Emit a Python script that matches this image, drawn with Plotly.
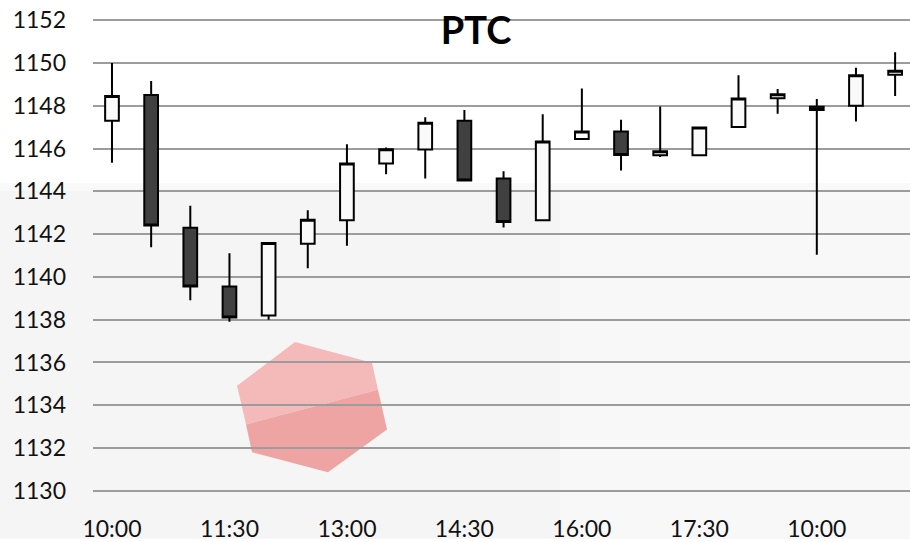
import plotly.graph_objects as go

# ---- data ----
times = ["10:00", "10:30", "11:00", "11:30", "12:00", "12:30", "13:00", "13:30",
         "14:00", "14:30", "15:00", "15:30", "16:00", "16:30", "17:00", "17:30",
         "18:00", "18:30", "10:00", "10:30", "11:00"]
open_ = [1147.3, 1148.5, 1142.3, 1139.55, 1138.2, 1141.55, 1142.65, 1145.3, 1145.95, 1147.3,
         1144.6, 1142.65, 1146.45, 1146.8, 1145.68, 1145.68, 1147.0, 1148.35, 1147.95, 1148.0, 1149.45]
close = [1148.45, 1142.4, 1139.55, 1138.1, 1141.58, 1142.67, 1145.3, 1145.97, 1147.2, 1144.5,
         1142.57, 1146.33, 1146.8, 1145.7, 1145.87, 1146.98, 1148.34, 1148.54, 1147.8, 1149.42, 1149.63]
high = [1150.0, 1149.16, 1143.32, 1141.1, 1141.6, 1143.11, 1146.2, 1146.05, 1147.46, 1147.8,
        1144.94, 1147.6, 1148.8, 1147.34, 1147.96, 1146.98, 1149.42, 1148.78, 1148.31, 1149.78, 1150.5]
low = [1145.33, 1141.38, 1138.91, 1137.9, 1138.0, 1140.4, 1141.45, 1144.8, 1144.6, 1144.5,
       1142.31, 1142.65, 1146.44, 1144.97, 1145.6, 1145.68, 1146.98, 1147.63, 1141.04, 1147.26, 1148.45]
y_ticks = list(range(1130, 1153, 2))
title_text = "PTC"

idx = list(range(len(times)))
tick_idx = idx[::3]
tick_text = [times[i] for i in tick_idx]

W, H = 910, 542
L, R, T, B = 93, 0, 18, 46
PW, PH = W - L - R, H - T - B


def px(x):
    return (x - L) / PW


def py(y):
    return (H - B - y) / PH


def path(points):
    return "M " + " L ".join(f"{px(a):.4f},{py(b):.4f}" for a, b in points) + " Z"


fig = go.Figure()
fig.add_trace(go.Candlestick(
    x=idx, open=open_, high=high, low=low, close=close,
    increasing=dict(line=dict(color="#000000", width=2), fillcolor="#fafafa"),
    decreasing=dict(line=dict(color="#000000", width=2), fillcolor="#404040"),
    whiskerwidth=0, hoverinfo="none", showlegend=False,
))

# background decoration (watermark)
shapes = [
    dict(type="rect", xref="paper", yref="paper", x0=px(0), x1=px(W), y0=py(H), y1=py(192),
         fillcolor="#f5f5f5", line=dict(width=0), layer="below"),
    dict(type="rect", xref="paper", yref="paper", x0=px(0), x1=px(W), y0=py(192), y1=py(184),
         fillcolor="#f9f9f9", line=dict(width=0), layer="below"),
    dict(type="rect", xref="paper", yref="paper", x0=px(560), x1=px(W), y0=py(H), y1=py(192),
         fillcolor="#f8f8f8", line=dict(width=0), layer="below"),
    dict(type="path", xref="paper", yref="paper",
         path=path([(237, 388), (295, 344), (372, 365), (378, 392), (246, 427)]),
         fillcolor="#f4b9b9", line=dict(width=0), layer="below"),
    dict(type="path", xref="paper", yref="paper",
         path=path([(246, 427), (378, 392), (387, 432), (328, 475), (252, 455)]),
         fillcolor="#efa4a4", line=dict(width=0), layer="below"),
]

fig.update_layout(
    width=W, height=H,
    margin=dict(l=L, r=R, t=T, b=B),
    paper_bgcolor="#ffffff", plot_bgcolor="rgba(0,0,0,0)",
    font=dict(family="Lato, 'Open Sans', sans-serif", size=23, color="#111111"),
    title=dict(text=f"<b>{title_text}</b>", x=476 / W, y=1 - 31 / H, xref="container", yref="container",
               xanchor="center", yanchor="middle", font=dict(size=38, color="#000000")),
    boxgap=0.5,
    shapes=shapes,
    xaxis=dict(range=[-0.485, 20.38], tickvals=tick_idx, ticktext=tick_text, showgrid=False,
               zeroline=False, showline=False, ticks="", rangeslider=dict(visible=False),
               ticklabelstandoff=20, fixedrange=True),
    yaxis=dict(range=[1129.9, 1152.1], tickvals=y_ticks, showgrid=True, gridcolor="#9c9c9c",
               gridwidth=1.6, zeroline=False, showline=False, ticks="", ticklabelstandoff=26,
               fixedrange=True),
)

fig.write_html("out.html", config={"displayModeBar": False},
               post_script="document.body.style.margin='0';document.body.style.overflow='hidden';")
